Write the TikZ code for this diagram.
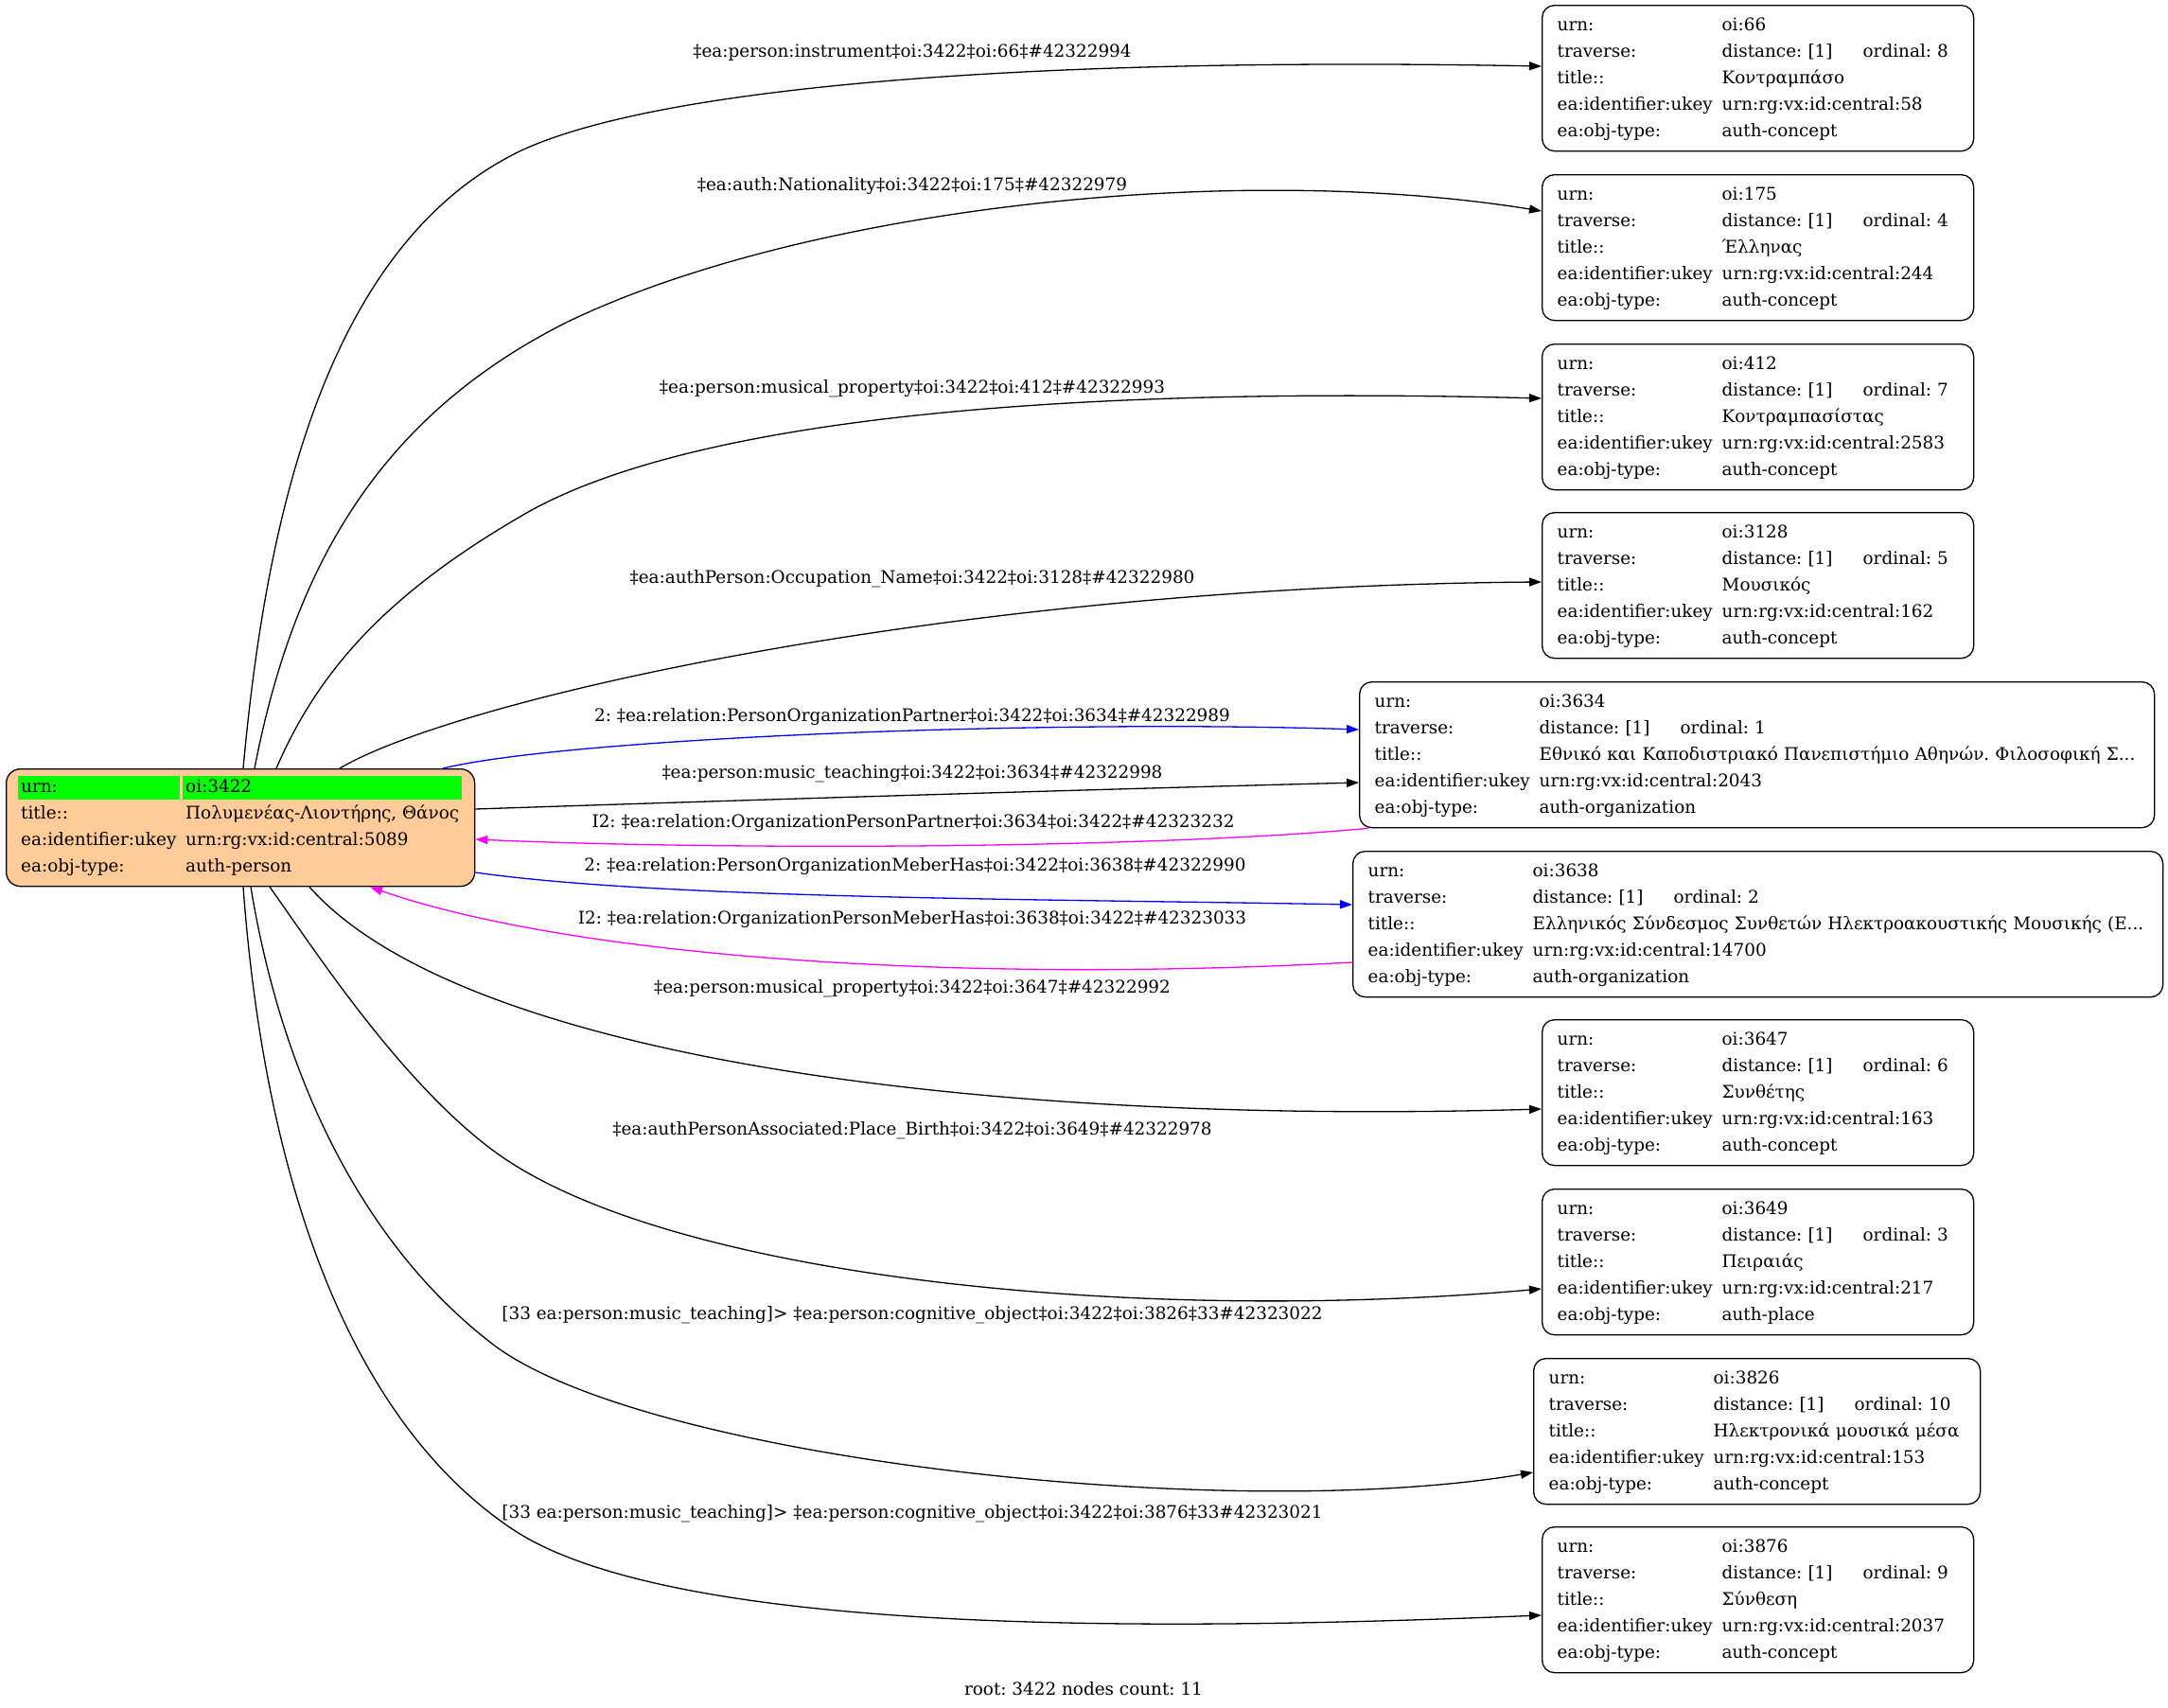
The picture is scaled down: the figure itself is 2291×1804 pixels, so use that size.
\documentclass[tikz,border=0pt]{standalone}
\usepackage{fontspec}
\setmainfont{DejaVu Serif}
\usetikzlibrary{arrows.meta}
\frenchspacing

\definecolor{rootpeach}{HTML}{FFCC99}
\definecolor{urngreen}{HTML}{00FF00}
\definecolor{linkblue}{HTML}{0000FF}
\definecolor{linkmagenta}{HTML}{FF00FF}

% five rows of a record node
\newcommand{\recordrows}[5]{%
  \begin{tabular}{@{}p{174pt}@{}l@{}}
    urn: & #1\\
    traverse: & \makebox[149pt][l]{distance: [1]}ordinal: #2\\
    title:: & #3\\
    ea:identifier:ukey & #4\\
    ea:obj-type: & #5
  \end{tabular}}

\begin{document}
\begin{tikzpicture}[x=1pt,y=-1pt,font=\fontsize{18.4}{28}\selectfont\frenchspacing,
    record/.style={draw, line width=1.3pt, rounded corners=13pt, anchor=north west,
      inner xsep=16pt, inner ysep=7pt, minimum height=154pt, align=left},
    rootbox/.style={draw, line width=1.3pt, fill=rootpeach, rounded corners=15pt,
      anchor=north west, minimum width=495pt, minimum height=124pt, inner sep=0pt},
    link/.style={line width=1.3pt, -{Triangle[length=13pt,width=9pt]}},
    edgelabel/.style={inner sep=0pt}]
  \useasboundingbox (0,0) rectangle (2291,1804);

  % root
  \node[rootbox] (root) at (6,812) {};
  \fill[urngreen] (19,820) rectangle (190,845);
  \fill[urngreen] (193,820) rectangle (488,845);
  \node[anchor=north west, inner sep=0pt] (rootrows) at (22,818) {%
    \begin{tabular}{@{}p{174pt}@{}l@{}}
      urn: & oi:3422\\
      title:: & Πολυμενέας-Λιοντήρης, Θάνος\\
      ea:identifier:ukey & urn:rg:vx:id:central:5089\\
      ea:obj-type: & auth-person
    \end{tabular}};

  % targets
  \node[record, text width=424pt] (n66) at (1629,5)
    {\recordrows{oi:66}{8}{Κοντραμπάσο}{urn:rg:vx:id:central:58}{auth-concept}};
  \node[record, text width=424pt] (n175) at (1629,184)
    {\recordrows{oi:175}{4}{Έλληνας}{urn:rg:vx:id:central:244}{auth-concept}};
  \node[record, text width=424pt] (n412) at (1629,363)
    {\recordrows{oi:412}{7}{Κοντραμπασίστας}{urn:rg:vx:id:central:2583}{auth-concept}};
  \node[record, text width=424pt] (n3128) at (1629,541)
    {\recordrows{oi:3128}{5}{Μουσικός}{urn:rg:vx:id:central:162}{auth-concept}};
  \node[record, text width=808pt] (n3634) at (1436,720)
    {\recordrows{oi:3634}{1}{Εθνικό και Καποδιστριακό Πανεπιστήμιο Αθηνών. Φιλοσοφική Σ...}{urn:rg:vx:id:central:2043}{auth-organization}};
  \node[record, text width=824pt] (n3638) at (1429,899)
    {\recordrows{oi:3638}{2}{Ελληνικός Σύνδεσμος Συνθετών Ηλεκτροακουστικής Μουσικής (Ε...}{urn:rg:vx:id:central:14700}{auth-organization}};
  \node[record, text width=424pt] (n3647) at (1629,1077)
    {\recordrows{oi:3647}{6}{Συνθέτης}{urn:rg:vx:id:central:163}{auth-concept}};
  \node[record, text width=424pt] (n3649) at (1629,1256)
    {\recordrows{oi:3649}{3}{Πειραιάς}{urn:rg:vx:id:central:217}{auth-place}};
  \node[record, text width=440pt] (n3826) at (1620,1435)
    {\recordrows{oi:3826}{10}{Ηλεκτρονικά μουσικά μέσα}{urn:rg:vx:id:central:153}{auth-concept}};
  \node[record, text width=424pt] (n3876) at (1629,1613)
    {\recordrows{oi:3876}{9}{Σύνθεση}{urn:rg:vx:id:central:2037}{auth-concept}};

  % edges
  \draw[link] ([xshift=251pt]root.north west) .. controls (280,560) and (340,260) .. (551,159)
    .. controls (700,90) and (1100,60) .. ([yshift=-65pt]n66.north west);
  \draw[link] ([xshift=263pt]root.north west) .. controls (310,600) and (400,440) .. (600,340)
    .. controls (850,220) and (1300,170) .. ([yshift=-39pt]n175.north west);
  \draw[link] ([xshift=286pt]root.north west) .. controls (340,700) and (420,620) .. (560,540)
    .. controls (760,430) and (1200,410) .. ([yshift=-58pt]n412.north west);
  \draw[link] ([xshift=353pt]root.north west) .. controls (480,740) and (1000,620) .. ([yshift=-74pt]n3128.north west);
  \draw[link, linkblue] ([xshift=462pt]root.north west) .. controls (600,780) and (1100,760) .. ([yshift=-51pt]n3634.north west);
  \draw[link] ([yshift=-43pt]root.north east) .. controls (800,845) and (1200,833) .. ([yshift=-107pt]n3634.north west);
  \draw[link, linkmagenta] ([xshift=10pt]n3634.south west) .. controls (1200,898) and (750,898) .. ([yshift=-75pt]root.north east);
  \draw[link, linkblue] ([yshift=-110pt]root.north east) .. controls (700,950) and (1100,950) .. ([yshift=-57pt]n3638.north west);
  \draw[link, linkmagenta] ([yshift=-118pt]n3638.north west) .. controls (1000,1040) and (600,1010) .. ([xshift=385pt]root.south west);
  \draw[link] ([xshift=321pt]root.south west) .. controls (480,1110) and (1000,1190) .. ([yshift=-95pt]n3647.north west);
  \draw[link] ([xshift=279pt]root.south west) .. controls (330,1000) and (420,1140) .. (520,1215)
    .. controls (700,1350) and (1200,1400) .. ([yshift=-106pt]n3649.north west);
  \draw[link] ([xshift=259pt]root.south west) .. controls (300,1150) and (390,1320) .. (520,1420)
    .. controls (680,1543) and (1300,1610) .. ([yshift=-121pt]n3826.north west);
  \draw[link] ([xshift=251pt]root.south west) .. controls (280,1250) and (370,1500) .. (540,1615)
    .. controls (720,1737) and (1300,1720) .. ([yshift=-94pt]n3876.north west);

  % edge labels
  \node[edgelabel] (l66) at (964,56) {‡ea:person:instrument‡oi:3422‡oi:66‡\#42322994};
  \node[edgelabel] (l175) at (964,197) {‡ea:auth:Nationality‡oi:3422‡oi:175‡\#42322979};
  \node[edgelabel] (l412) at (964,411) {‡ea:person:musical\_property‡oi:3422‡oi:412‡\#42322993};
  \node[edgelabel] (l3128) at (964,612) {‡ea:authPerson:Occupation\_Name‡oi:3422‡oi:3128‡\#42322980};
  \node[edgelabel] (l3634a) at (964,758) {2: ‡ea:relation:PersonOrganizationPartner‡oi:3422‡oi:3634‡\#42322989};
  \node[edgelabel] (l3634b) at (964,818) {‡ea:person:music\_teaching‡oi:3422‡oi:3634‡\#42322998};
  \node[edgelabel] (l3634c) at (965,870) {I2: ‡ea:relation:OrganizationPersonPartner‡oi:3634‡oi:3422‡\#42323232};
  \node[edgelabel] (l3638a) at (967,916) {2: ‡ea:relation:PersonOrganizationMeberHas‡oi:3422‡oi:3638‡\#42322990};
  \node[edgelabel] (l3638b) at (964,972) {I2: ‡ea:relation:OrganizationPersonMeberHas‡oi:3638‡oi:3422‡\#42323033};
  \node[edgelabel] (l3647) at (964,1045) {‡ea:person:musical\_property‡oi:3422‡oi:3647‡\#42322992};
  \node[edgelabel] (l3649) at (964,1195) {‡ea:authPersonAssociated:Place\_Birth‡oi:3422‡oi:3649‡\#42322978};
  \node[edgelabel] (l3826) at (964,1390) {[33 ea:person:music\_teaching]> ‡ea:person:cognitive\_object‡oi:3422‡oi:3826‡33\#42323022};
  \node[edgelabel] (l3876) at (964,1600) {[33 ea:person:music\_teaching]> ‡ea:person:cognitive\_object‡oi:3422‡oi:3876‡33\#42323021};

  \node[edgelabel] (caption) at (1145,1785) {root: 3422 nodes count: 11};
\end{tikzpicture}
\end{document}
